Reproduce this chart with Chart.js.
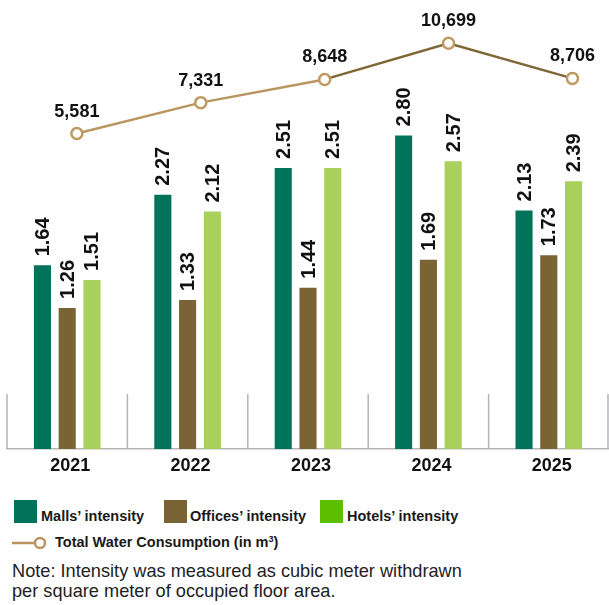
<!DOCTYPE html>
<html>
<head>
<meta charset="utf-8">
<script src="https://cdn.jsdelivr.net/npm/chart.js@4/dist/chart.umd.min.js"></script>
<style>
  body { margin: 0; width: 609px; height: 605px; background: #fff; position: relative; overflow: hidden;
         font-family: "Liberation Sans", Arial, sans-serif; color: #1a1a1a; }
  canvas { position: absolute; left: 0; top: 0; }
  .sw { position: absolute; width: 23px; height: 23px; }
  .lg { position: absolute; font-size: 14.5px; font-weight: bold; line-height: 14px; white-space: nowrap; }
  .note { position: absolute; left: 12px; font-size: 18.2px; line-height: 20px; color: #222; white-space: nowrap; }
</style>
</head>
<body>
<canvas id="bars" width="609" height="485"></canvas>
<canvas id="water" width="609" height="485"></canvas>

<!-- legend -->
<div class="sw" style="left:14px;top:500px;background:#00735a"></div>
<div class="lg" style="left:41px;top:509px">Malls’ intensity</div>
<div class="sw" style="left:164px;top:500px;background:#7a6334"></div>
<div class="lg" style="left:190px;top:509px">Offices’ intensity</div>
<div class="sw" style="left:320px;top:500px;background:#5cbf00"></div>
<div class="lg" style="left:347px;top:509px">Hotels’ intensity</div>
<svg style="position:absolute;left:0;top:533px" width="60" height="20">
  <line x1="12" y1="10" x2="34" y2="10" stroke="#b99660" stroke-width="2.5"/>
  <circle cx="40" cy="10" r="5" fill="#fff" stroke="#b99660" stroke-width="2.5"/>
</svg>
<div class="lg" style="left:55px;top:535px">Total Water Consumption (in m<sup style="font-size:9px;vertical-align:5px;line-height:0">3</sup>)</div>
<div class="note" style="top:561px">Note: Intensity was measured as cubic meter withdrawn<br>per square meter of occupied floor area.</div>

<script>
const years = ['2021', '2022', '2023', '2024', '2025'];
const mallsIntensity = [1.64, 2.27, 2.51, 2.80, 2.13];
const officesIntensity = [1.26, 1.33, 1.44, 1.69, 1.73];
const hotelsIntensity = [1.51, 2.12, 2.51, 2.57, 2.39];
const totalWater = [5581, 7331, 8648, 10699, 8706];

const FONT = '"Liberation Sans", Arial, sans-serif';
const TAN = '#b99660';
const DARK_TAN = '#7f6634';

// short separators rising from the axis between the years
const separators = {
    id: 'separators',
    afterDraw(chart) {
        const { ctx, chartArea } = chart;
        const x = chart.scales.x;
        const w = x.width / years.length;
        ctx.save();
        ctx.strokeStyle = '#b5b5b8';
        ctx.lineWidth = 1.5;
        for (let i = 0; i <= years.length; i++) {
            let px = x.left + i * w;
            if (i === years.length) px -= 1;
            ctx.beginPath();
            ctx.moveTo(px, chartArea.bottom);
            ctx.lineTo(px, chartArea.bottom - 55);
            ctx.stroke();
        }
        ctx.restore();
    }
};

// rotated value above each bar
const barLabels = {
    id: 'barLabels',
    afterDatasetsDraw(chart) {
        const { ctx } = chart;
        ctx.save();
        ctx.fillStyle = '#111';
        ctx.font = 'bold 20px ' + FONT;
        ctx.textAlign = 'left';
        ctx.textBaseline = 'middle';
        chart.data.datasets.forEach((ds, di) => {
            chart.getDatasetMeta(di).data.forEach((el, i) => {
                ctx.save();
                ctx.translate(el.x, el.y - 9);
                ctx.rotate(-Math.PI / 2);
                ctx.fillText(ds.data[i].toFixed(2), 0, 1);
                ctx.restore();
            });
        });
        ctx.restore();
    }
};

// total above each point of the line
const pointLabels = {
    id: 'pointLabels',
    afterDatasetsDraw(chart) {
        const { ctx } = chart;
        ctx.save();
        ctx.fillStyle = '#111';
        ctx.font = 'bold 18px ' + FONT;
        ctx.textAlign = 'center';
        ctx.textBaseline = 'alphabetic';
        chart.getDatasetMeta(0).data.forEach((el, i) => {
            ctx.fillText(totalWater[i].toLocaleString('en-US'), el.x, el.y - 17);
        });
        ctx.restore();
    }
};

const barStyle = { categoryPercentage: 0.617, barPercentage: 0.69 };

new Chart(document.getElementById('bars'), {
    type: 'bar',
    data: {
        labels: years,
        datasets: [
            { label: 'Malls’ intensity', data: mallsIntensity, backgroundColor: '#00735a', ...barStyle },
            { label: 'Offices’ intensity', data: officesIntensity, backgroundColor: '#7a6334', ...barStyle },
            { label: 'Hotels’ intensity', data: hotelsIntensity, backgroundColor: '#a8d05a', ...barStyle }
        ]
    },
    options: {
        responsive: false,
        animation: false,
        layout: { padding: { left: 7, right: -1, top: 1, bottom: 2.4 } },
        plugins: {
            legend: { display: false },
            tooltip: { enabled: false }
        },
        scales: {
            x: {
                grid: { display: false, drawTicks: false },
                border: { display: true, color: '#b5b5b8', width: 1.5 },
                ticks: {
                    color: '#111',
                    font: { family: FONT, size: 18, weight: 'bold' },
                    padding: 6,
                    labelOffset: 3
                }
            },
            y: { display: false, min: 0, max: 4 }
        }
    },
    plugins: [separators, barLabels]
});

// line drawn on its own canvas laid over the bars
new Chart(document.getElementById('water'), {
    type: 'line',
    data: {
        datasets: [{
            label: 'Total Water Consumption (in m³)',
            data: totalWater.map((v, i) => ({ x: i, y: v })),
            borderColor: TAN,
            borderWidth: 2.5,
            segment: {
                borderColor: c => c.p0DataIndex >= 2 ? DARK_TAN : TAN
            },
            pointRadius: 5.5,
            pointBorderWidth: 2.5,
            pointBorderColor: '#bc9a62',
            pointBackgroundColor: '#fff',
            tension: 0
        }]
    },
    options: {
        responsive: false,
        animation: false,
        layout: { padding: { left: 7, right: 2, top: 3, bottom: 36 } },
        plugins: {
            legend: { display: false },
            tooltip: { enabled: false }
        },
        scales: {
            x: { type: 'linear', display: false, min: -0.556, max: 4.2306 },
            y: { display: false, min: -12300, max: 12695 }
        }
    },
    plugins: [pointLabels]
});
</script>
</body>
</html>
